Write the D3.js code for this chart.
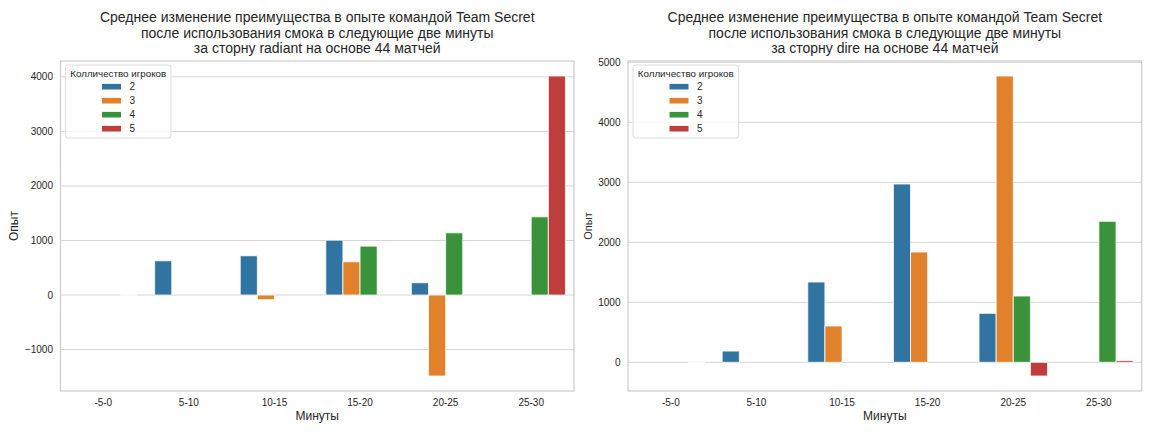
<!DOCTYPE html>
<html>
<head>
<meta charset="utf-8">
<script src="https://cdn.jsdelivr.net/npm/d3@7"></script>
<style>
  html, body { margin: 0; padding: 0; background: #fff; }
  svg { display: block; font-family: "Liberation Sans", Arial, sans-serif; }
</style>
</head>
<body>
<svg id="chart" width="1152" height="432"></svg>
<script>
// ---- data ----
const categories = ["-5-0", "5-10", "10-15", "15-20", "20-25", "25-30"];
const hueLabels = ["2", "3", "4", "5"];
const hueColors = ["#3274a1", "#e1812c", "#3a923a", "#c03d3e"];

// radiant side
const radiant2 = [null, 628, 720, 1007, 225, null];
const radiant3 = [null, null, -86, 610, -1484, null];
const radiant4 = [null, null, null, 897, 1141, 1434];
const radiant5 = [0, null, null, null, null, 4016];

// dire side
const dire2 = [null, 188, 1338, 2972, 817, null];
const dire3 = [null, null, 605, 1838, 4772, null];
const dire4 = [null, null, null, null, 1105, 2350];
const dire5 = [0, null, null, null, -228, 28];

const radiantTicks = [-1000, 0, 1000, 2000, 3000, 4000];
const direTicks = [0, 1000, 2000, 3000, 4000, 5000];

const radiantTitle = ["Среднее изменение преимущества в опыте командой Team Secret",
  "после использования смока в следующие две минуты",
  "за сторну radiant на основе 44 матчей"];
const direTitle = ["Среднее изменение преимущества в опыте командой Team Secret",
  "после использования смока в следующие две минуты",
  "за сторну dire на основе 44 матчей"];

const xLabel = "Минуты";
const yLabel = "Опыт";
const legendTitle = "Колличество игроков";

// ---- drawing ----
const svg = d3.select("#chart");
const textColor = "#262626";
const gridColor = "#d5d5d5";

function drawPanel(opts) {
  const { left, right, top, bottom, series, ticks, title, yLabelSize, yLabelX } = opts;
  const g = svg.append("g");

  const allVals = series.flat().filter(v => v !== null);
  const [mn, mx] = d3.extent(allVals);
  const pad = (mx - mn) * 0.05;
  const y = d3.scaleLinear().domain([mn - pad, mx + pad]).range([bottom, top]);
  const x = d3.scaleBand().domain(categories).range([left, right]).paddingInner(0).paddingOuter(0);
  const inner = d3.scaleBand().domain(hueLabels)
    .range([0, x.bandwidth() * 0.8]);

  // grid lines
  g.append("g").selectAll("line").data(ticks).join("line")
    .attr("x1", left).attr("x2", right)
    .attr("y1", d => y(d)).attr("y2", d => y(d))
    .attr("stroke", gridColor).attr("stroke-width", 1);

  // bars
  const bars = [];
  series.forEach((vals, hi) => {
    vals.forEach((v, ci) => {
      if (v === null) return;
      bars.push({ cat: categories[ci], hue: hueLabels[hi], color: hueColors[hi], v });
    });
  });
  g.append("g").selectAll("path").data(bars).join("path")
    .attr("d", d => {
      const x0 = x(d.cat) + x.bandwidth() * 0.1 + inner(d.hue);
      const w = inner.bandwidth();
      const y0 = y(0), y1 = y(d.v);
      return `M${x0},${y0}L${x0 + w},${y0}L${x0 + w},${y1}L${x0},${y1}Z`;
    })
    .attr("fill", d => d.color)
    .attr("stroke", "#ffffff").attr("stroke-width", 0.8);

  // spines
  g.append("rect")
    .attr("x", left).attr("y", top)
    .attr("width", right - left).attr("height", bottom - top)
    .attr("fill", "none").attr("stroke", "#cccccc").attr("stroke-width", 1.2);

  // y tick labels
  const fmt = d => (d < 0 ? "\u2212" + Math.abs(d) : String(d));
  g.append("g").selectAll("text").data(ticks).join("text")
    .attr("x", left - 7.5).attr("y", d => y(d))
    .attr("dy", "0.35em")
    .attr("text-anchor", "end")
    .attr("font-size", 10).attr("fill", textColor)
    .text(fmt);

  // x tick labels
  g.append("g").selectAll("text").data(categories).join("text")
    .attr("x", d => x(d) + x.bandwidth() / 2).attr("y", bottom + 14.5)
    .attr("text-anchor", "middle")
    .attr("font-size", 10).attr("fill", textColor)
    .text(d => d);

  // axis labels
  g.append("text")
    .attr("x", (left + right) / 2).attr("y", bottom + 28.5)
    .attr("text-anchor", "middle").attr("font-size", 12).attr("fill", textColor)
    .text(xLabel);
  g.append("text")
    .attr("transform", `translate(${yLabelX},${(top + bottom) / 2}) rotate(-90)`)
    .attr("text-anchor", "middle").attr("dy", "0.35em")
    .attr("font-size", yLabelSize).attr("fill", textColor)
    .text(yLabel);

  // title
  g.append("g").selectAll("text").data(title).join("text")
    .attr("x", (left + right) / 2).attr("y", (d, i) => 22 + i * 15.5)
    .attr("text-anchor", "middle").attr("font-size", 14).attr("fill", textColor)
    .text(d => d);

  // legend
  const lx = left + 5, ly = top + 4, lw = 105.5, lh = 73;
  const lg = g.append("g");
  lg.append("rect")
    .attr("x", lx).attr("y", ly).attr("width", lw).attr("height", lh)
    .attr("rx", 2.5).attr("ry", 2.5)
    .attr("fill", "#ffffff").attr("fill-opacity", 0.8)
    .attr("stroke", "#dcdcdc").attr("stroke-width", 1);
  lg.append("text")
    .attr("x", lx + lw / 2).attr("y", ly + 8.3).attr("dy", "0.35em")
    .attr("text-anchor", "middle").attr("font-size", 9.8).attr("fill", textColor)
    .text(legendTitle);
  const items = lg.selectAll("g.item").data(hueLabels).join("g").attr("class", "item")
    .attr("transform", (d, i) => `translate(${lx + 36.5},${ly + 21.7 + i * 14})`);
  items.append("rect")
    .attr("x", 0).attr("y", -2.8).attr("width", 19).attr("height", 5.6)
    .attr("fill", (d, i) => hueColors[i]);
  items.append("text")
    .attr("x", 27.5).attr("y", 0).attr("dy", "0.35em")
    .attr("font-size", 10).attr("fill", textColor)
    .text(d => d);
}

drawPanel({
  left: 60.5, right: 574, top: 61, bottom: 391,
  series: [radiant2, radiant3, radiant4, radiant5],
  ticks: radiantTicks, title: radiantTitle,
  yLabelSize: 12, yLabelX: 14
});
drawPanel({
  left: 628, right: 1141.7, top: 61, bottom: 391,
  series: [dire2, dire3, dire4, dire5],
  ticks: direTicks, title: direTitle,
  yLabelSize: 11, yLabelX: 588
});
</script>
</body>
</html>
